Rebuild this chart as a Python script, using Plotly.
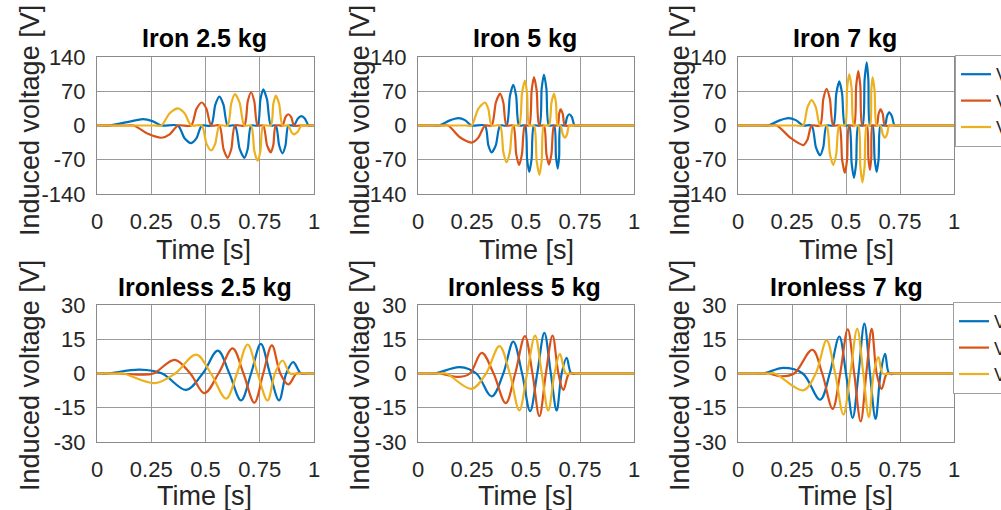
import plotly.graph_objects as go

# ---------------- data ----------------
TICK_X = [0, 0.25, 0.5, 0.75, 1]
TICK_X_TEXT = ["0", "0.25", "0.5", "0.75", "1"]
TICK_Y_IRON = [-140, -70, 0, 70, 140]
TICK_Y_IRON_TEXT = ["-140", "-70", "0", "70", "140"]
TICK_Y_IRONLESS = [-30, -15, 0, 15, 30]
TICK_Y_IRONLESS_TEXT = ["-30", "-15", "0", "15", "30"]

TITLES = ["Iron 2.5 kg", "Iron 5 kg", "Iron 7 kg",
          "Ironless 2.5 kg", "Ironless 5 kg", "Ironless 7 kg"]
SERIES_NAMES = ["V<sub>a</sub>", "V<sub>b</sub>", "V<sub>c</sub>"]

# Iron 2.5 kg
I25_T_A = [0, 0.03, 0.06, 0.15, 0.212, 0.255, 0.297, 0.373, 0.4035, 0.434, 0.4585, 0.483, 0.526, 0.545, 0.564, 0.583, 0.602, 0.636, 0.6575, 0.679, 0.6945, 0.710, 0.740, 0.753, 0.766, 0.7835, 0.801, 0.824, 0.8395, 0.855, 0.8685, 0.882, 0.908, 0.925, 0.942, 0.9585, 0.975, 0.99, 1]
I25_V_A = [0, 0, 0, 8, 13, 9, 0, 0, -26, -36, -26, 0, 0, 42, 59, 42, 0, 0, -48, -66, -48, 0, 0, 53, 74, 53, 0, 0, -41, -57, -41, 0, 0, 14, 19, 14, 0, 0, 0]
I25_T_B = [0, 0.14, 0.17, 0.235, 0.297, 0.335, 0.373, 0.434, 0.4585, 0.483, 0.5045, 0.526, 0.564, 0.583, 0.602, 0.619, 0.636, 0.679, 0.6945, 0.710, 0.725, 0.740, 0.766, 0.7835, 0.801, 0.8125, 0.824, 0.855, 0.8685, 0.882, 0.895, 0.908, 0.94, 1]
I25_V_B = [0, 0, 0, -17, -25, -18, 0, 0, 34, 47, 34, 0, 0, -48, -66, -48, 0, 0, 49, 68, 49, 0, 0, -40, -55, -40, 0, 0, 17, 23, 17, 0, 0, 0]
I25_T_C = [0, 0.26, 0.297, 0.335, 0.373, 0.4035, 0.434, 0.483, 0.5045, 0.526, 0.545, 0.564, 0.602, 0.619, 0.636, 0.6575, 0.679, 0.710, 0.725, 0.740, 0.753, 0.766, 0.801, 0.8125, 0.824, 0.8395, 0.855, 0.882, 0.895, 0.908, 0.925, 0.942, 0.97, 1]
I25_V_C = [0, 0, 0, 25, 35, 25, 0, 0, -37, -51, -37, 0, 0, 46, 64, 46, 0, 0, -52, -72, -52, 0, 0, 44, 61, 44, 0, 0, -13, -18, -13, 0, 0, 0]

# Iron 5 kg
I5_T_A = [0, 0.07, 0.10, 0.145, 0.187, 0.2175, 0.248, 0.310, 0.3255, 0.341, 0.3605, 0.380, 0.410, 0.4255, 0.441, 0.4545, 0.468, 0.495, 0.505, 0.515, 0.526, 0.537, 0.562, 0.5725, 0.583, 0.5945, 0.606, 0.630, 0.6385, 0.647, 0.6535, 0.660, 0.680, 0.69, 0.700, 0.7125, 0.725, 0.75, 1]
I5_V_A = [0, 0, 0, 10, 15, 11, 0, 0, -40, -55, -40, 0, 0, 60, 83, 60, 0, 0, -68, -95, -68, 0, 0, 75, 104, 75, 0, 0, -63, -88, -63, 0, 0, 17, 23, 17, 0, 0, 0]
I5_T_B = [0, 0.11, 0.14, 0.194, 0.248, 0.279, 0.310, 0.341, 0.3605, 0.380, 0.395, 0.410, 0.441, 0.4545, 0.468, 0.4815, 0.495, 0.515, 0.526, 0.537, 0.5495, 0.562, 0.583, 0.5945, 0.606, 0.618, 0.630, 0.647, 0.6535, 0.660, 0.67, 0.680, 0.71, 1]
I5_V_B = [0, 0, 0, -24, -35, -25, 0, 0, 47, 65, 47, 0, 0, -58, -81, -58, 0, 0, 71, 99, 71, 0, 0, -58, -80, -58, 0, 0, 24, 33, 24, 0, 0, 0]
I5_T_C = [0, 0.22, 0.248, 0.279, 0.310, 0.3255, 0.341, 0.380, 0.395, 0.410, 0.4255, 0.441, 0.468, 0.4815, 0.495, 0.505, 0.515, 0.537, 0.5495, 0.562, 0.5725, 0.583, 0.606, 0.618, 0.630, 0.6385, 0.647, 0.660, 0.67, 0.680, 0.69, 0.700, 0.73, 1]
I5_V_C = [0, 0, 0, 34, 47, 34, 0, 0, -54, -75, -54, 0, 0, 66, 92, 66, 0, 0, -73, -101, -73, 0, 0, 47, 65, 47, 0, 0, -18, -25, -18, 0, 0, 0]

# Iron 7 kg
I7_T_A = [0, 0.11, 0.14, 0.19, 0.233, 0.2675, 0.302, 0.341, 0.3605, 0.380, 0.395, 0.410, 0.441, 0.455, 0.469, 0.482, 0.495, 0.515, 0.526, 0.537, 0.547, 0.557, 0.576, 0.586, 0.596, 0.6035, 0.611, 0.623, 0.6325, 0.642, 0.651, 0.660, 0.680, 0.69, 0.700, 0.7125, 0.725, 0.75, 1]
I7_V_A = [0, 0, 0, 10, 15, 11, 0, 0, -44, -61, -44, 0, 0, 65, 90, 65, 0, 0, -77, -107, -77, 0, 0, 93, 129, 93, 0, 0, -68, -95, -68, 0, 0, 19, 27, 19, 0, 0, 0]
I7_T_B = [0, 0.15, 0.18, 0.245, 0.302, 0.3215, 0.341, 0.380, 0.395, 0.410, 0.4255, 0.441, 0.469, 0.482, 0.495, 0.505, 0.515, 0.537, 0.547, 0.557, 0.5665, 0.576, 0.596, 0.6035, 0.611, 0.617, 0.623, 0.642, 0.651, 0.660, 0.67, 0.680, 0.71, 1]
I7_V_B = [0, 0, 0, -26, -40, -29, 0, 0, 54, 75, 54, 0, 0, -70, -97, -70, 0, 0, 80, 111, 80, 0, 0, -66, -91, -66, 0, 0, 24, 33, 24, 0, 0, 0]
I7_T_C = [0, 0.27, 0.302, 0.3215, 0.341, 0.3605, 0.380, 0.410, 0.4255, 0.441, 0.455, 0.469, 0.495, 0.505, 0.515, 0.526, 0.537, 0.557, 0.5665, 0.576, 0.586, 0.596, 0.611, 0.617, 0.623, 0.6325, 0.642, 0.660, 0.67, 0.680, 0.69, 0.700, 0.73, 1]
I7_V_C = [0, 0, 0, 37, 52, 37, 0, 0, -58, -81, -58, 0, 0, 76, 105, 76, 0, 0, -84, -116, -84, 0, 0, 71, 99, 71, 0, 0, -18, -25, -18, 0, 0, 0]

# Ironless 2.5 kg
L25_T_A = [0, 0.02, 0.05, 0.197, 0.30, 0.411, 0.487, 0.557, 0.61, 0.664, 0.71, 0.755, 0.797, 0.839, 0.872, 0.904, 0.94, 0.97, 1]
L25_V_A = [0, 0, 0, 1.7, 0, -7.2, 0, 10, 0, -11.8, 0, 13, 0, -11.8, 0, 5, 0, 0, 0]
L25_T_B = [0, 0.07, 0.10, 0.20, 0.26, 0.358, 0.43, 0.495, 0.56, 0.625, 0.675, 0.725, 0.766, 0.806, 0.845, 0.882, 0.92, 0.95, 1]
L25_V_B = [0, 0, 0, -0.5, 0, 6, 0, -8.6, 0, 11, 0, -12.8, 0, 12.3, 0, -4.8, 0, 0, 0]
L25_T_C = [0, 0.09, 0.12, 0.266, 0.36, 0.457, 0.525, 0.595, 0.645, 0.694, 0.74, 0.786, 0.82, 0.855, 0.89, 0.92, 1]
L25_V_C = [0, 0, 0, -4.2, 0, 8.3, 0, -11, 0, 12.7, 0, -11.8, 0, 5.7, 0, 0, 0]

# Ironless 5 kg
L5_T_A = [0, 0.05, 0.08, 0.194, 0.27, 0.341, 0.395, 0.441, 0.482, 0.519, 0.552, 0.585, 0.615, 0.642, 0.665, 0.688, 0.71, 0.74, 1]
L5_V_A = [0, 0, 0, 2.8, 0, -10, 0, 14, 0, -16.5, 0, 17.8, 0, -16.2, 0, 6.9, 0, 0, 0]
L5_T_B = [0, 0.07, 0.10, 0.19, 0.24, 0.295, 0.35, 0.406, 0.45, 0.495, 0.53, 0.562, 0.592, 0.623, 0.65, 0.673, 0.70, 0.73, 1]
L5_V_B = [0, 0, 0, -1.5, 0, 9, 0, -13, 0, 16.4, 0, -18.7, 0, 16.6, 0, -7.2, 0, 0, 0]
L5_T_C = [0, 0.10, 0.13, 0.248, 0.315, 0.377, 0.425, 0.469, 0.505, 0.542, 0.573, 0.603, 0.632, 0.657, 0.685, 0.715, 1]
L5_V_C = [0, 0, 0, -6.7, 0, 12, 0, -16.2, 0, 16.6, 0, -16.2, 0, 8.6, 0, 0, 0]

# Ironless 7 kg
L7_T_A = [0, 0.09, 0.12, 0.21, 0.30, 0.38, 0.425, 0.469, 0.50, 0.531, 0.558, 0.585, 0.611, 0.637, 0.66, 0.681, 0.70, 0.73, 1]
L7_V_A = [0, 0, 0, 2.5, 0, -11.5, 0, 16.2, 0, -19.4, 0, 21.8, 0, -19.9, 0, 8.6, 0, 0, 0]
L7_T_B = [0, 0.11, 0.14, 0.20, 0.26, 0.344, 0.39, 0.438, 0.473, 0.508, 0.538, 0.568, 0.594, 0.619, 0.642, 0.665, 0.69, 0.72, 1]
L7_V_B = [0, 0, 0, -1.2, 0, 10.4, 0, -15.5, 0, 19.3, 0, -21, 0, 19.6, 0, -6.7, 0, 0, 0]
L7_T_C = [0, 0.14, 0.17, 0.302, 0.36, 0.41, 0.45, 0.488, 0.52, 0.552, 0.58, 0.606, 0.628, 0.65, 0.67, 0.70, 1]
L7_V_C = [0, 0, 0, -7.4, 0, 14.5, 0, -18, 0, 19.6, 0, -19.1, 0, 7.2, 0, 0, 0]

PANELS = [
    [(I25_T_A, I25_V_A), (I25_T_B, I25_V_B), (I25_T_C, I25_V_C)],
    [(I5_T_A, I5_V_A), (I5_T_B, I5_V_B), (I5_T_C, I5_V_C)],
    [(I7_T_A, I7_V_A), (I7_T_B, I7_V_B), (I7_T_C, I7_V_C)],
    [(L25_T_A, L25_V_A), (L25_T_B, L25_V_B), (L25_T_C, L25_V_C)],
    [(L5_T_A, L5_V_A), (L5_T_B, L5_V_B), (L5_T_C, L5_V_C)],
    [(L7_T_A, L7_V_A), (L7_T_B, L7_V_B), (L7_T_C, L7_V_C)],
]

# ---------------- styling / layout ----------------
W, H = 1001, 510
COLORS = ["#0072BD", "#D95319", "#EDB120"]
FONT = "Liberation Sans, Arial, Helvetica, sans-serif"
GRID = "#9a9a9a"

# plot boxes in pixels (left, right, top, bottom)
BOX_X = [(97, 314), (418, 634), (738, 954)]
BOX_Y = [(57, 194), (305, 442)]

def px_x(x):
    return x / W

def px_y(y):
    return 1 - y / H

fig = go.Figure()

for i, panel in enumerate(PANELS):
    row, col = divmod(i, 3)
    n = i + 1
    xa = "x" if n == 1 else f"x{n}"
    ya = "y" if n == 1 else f"y{n}"
    smooth = 0.7 if row == 0 else 1.0
    for k, (t, v) in enumerate(panel):
        fig.add_trace(go.Scatter(
            x=t, y=v, mode="lines", xaxis=xa, yaxis=ya,
            line=dict(color=COLORS[k], width=2.2, shape="spline", smoothing=smooth),
            name=SERIES_NAMES[k],
            legend="legend" if row == 0 else "legend2",
            showlegend=(col == 2),
        ))
    x0, x1 = BOX_X[col]
    y0, y1 = BOX_Y[row]
    xkey = "xaxis" if n == 1 else f"xaxis{n}"
    ykey = "yaxis" if n == 1 else f"yaxis{n}"
    if row == 0:
        yt, ytt, yr = TICK_Y_IRON, TICK_Y_IRON_TEXT, [-140, 140]
    else:
        yt, ytt, yr = TICK_Y_IRONLESS, TICK_Y_IRONLESS_TEXT, [-30, 30]
    fig.update_layout(**{
        xkey: dict(domain=[px_x(x0), px_x(x1)], anchor=ya, range=[0, 1],
                   tickvals=TICK_X, ticktext=TICK_X_TEXT, showgrid=True,
                   gridcolor=GRID, gridwidth=1, zeroline=False,
                   showline=True, linecolor="#8a8a8a", linewidth=1, mirror=True,
                   ticks="", ticklabelstandoff=8,
                   tickfont=dict(family=FONT, size=22, color="#262626")),
        ykey: dict(domain=[px_y(y1), px_y(y0)], anchor=xa, range=yr,
                   tickvals=yt, ticktext=ytt, showgrid=True,
                   gridcolor=GRID, gridwidth=1, zeroline=False,
                   showline=True, linecolor="#8a8a8a", linewidth=1, mirror=True,
                   ticks="", ticklabelstandoff=6,
                   tickfont=dict(family=FONT, size=22, color="#262626")),
    })

annotations = []
TITLE_POS = [(204, 38), (525, 38), (845, 38), (205, 287), (524, 287), (846, 287)]
for (tx, ty), title in zip(TITLE_POS, TITLES):
    annotations.append(dict(text=f"<b>{title}</b>", x=px_x(tx), y=px_y(ty),
                            xref="paper", yref="paper", showarrow=False,
                            xanchor="center", yanchor="middle",
                            font=dict(family=FONT, size=25, color="#000000")))
XT_POS = [(203, 250), (526, 250), (846, 250), (204, 496), (525, 496), (845, 496)]
for tx, ty in XT_POS:
    annotations.append(dict(text="Time [s]", x=px_x(tx), y=px_y(ty),
                            xref="paper", yref="paper", showarrow=False,
                            xanchor="center", yanchor="middle",
                            font=dict(family=FONT, size=27, color="#262626")))
YT_POS = [(30, 121), (360, 121), (680, 121), (30, 376), (360, 376), (680, 376)]
for tx, ty in YT_POS:
    annotations.append(dict(text="Induced voltage [V]", x=px_x(tx), y=px_y(ty),
                            xref="paper", yref="paper", showarrow=False,
                            xanchor="center", yanchor="middle", textangle=-90,
                            font=dict(family=FONT, size=27, color="#262626")))

legend_style = dict(xref="paper", yref="paper", xanchor="left", yanchor="top",
                    bgcolor="#ffffff", bordercolor="#a0a0a0", borderwidth=1,
                    font=dict(family=FONT, size=18, color="#262626"),
                    tracegroupgap=0)

fig.update_layout(
    width=W, height=H,
    margin=dict(l=0, r=0, t=0, b=0, pad=0, autoexpand=False),
    paper_bgcolor="#ffffff", plot_bgcolor="#ffffff",
    showlegend=True,
    legend=dict(x=px_x(955), y=px_y(55), **legend_style),
    legend2=dict(x=px_x(953), y=px_y(302), **legend_style),
    annotations=annotations,
)

fig.write_html("out.html")
